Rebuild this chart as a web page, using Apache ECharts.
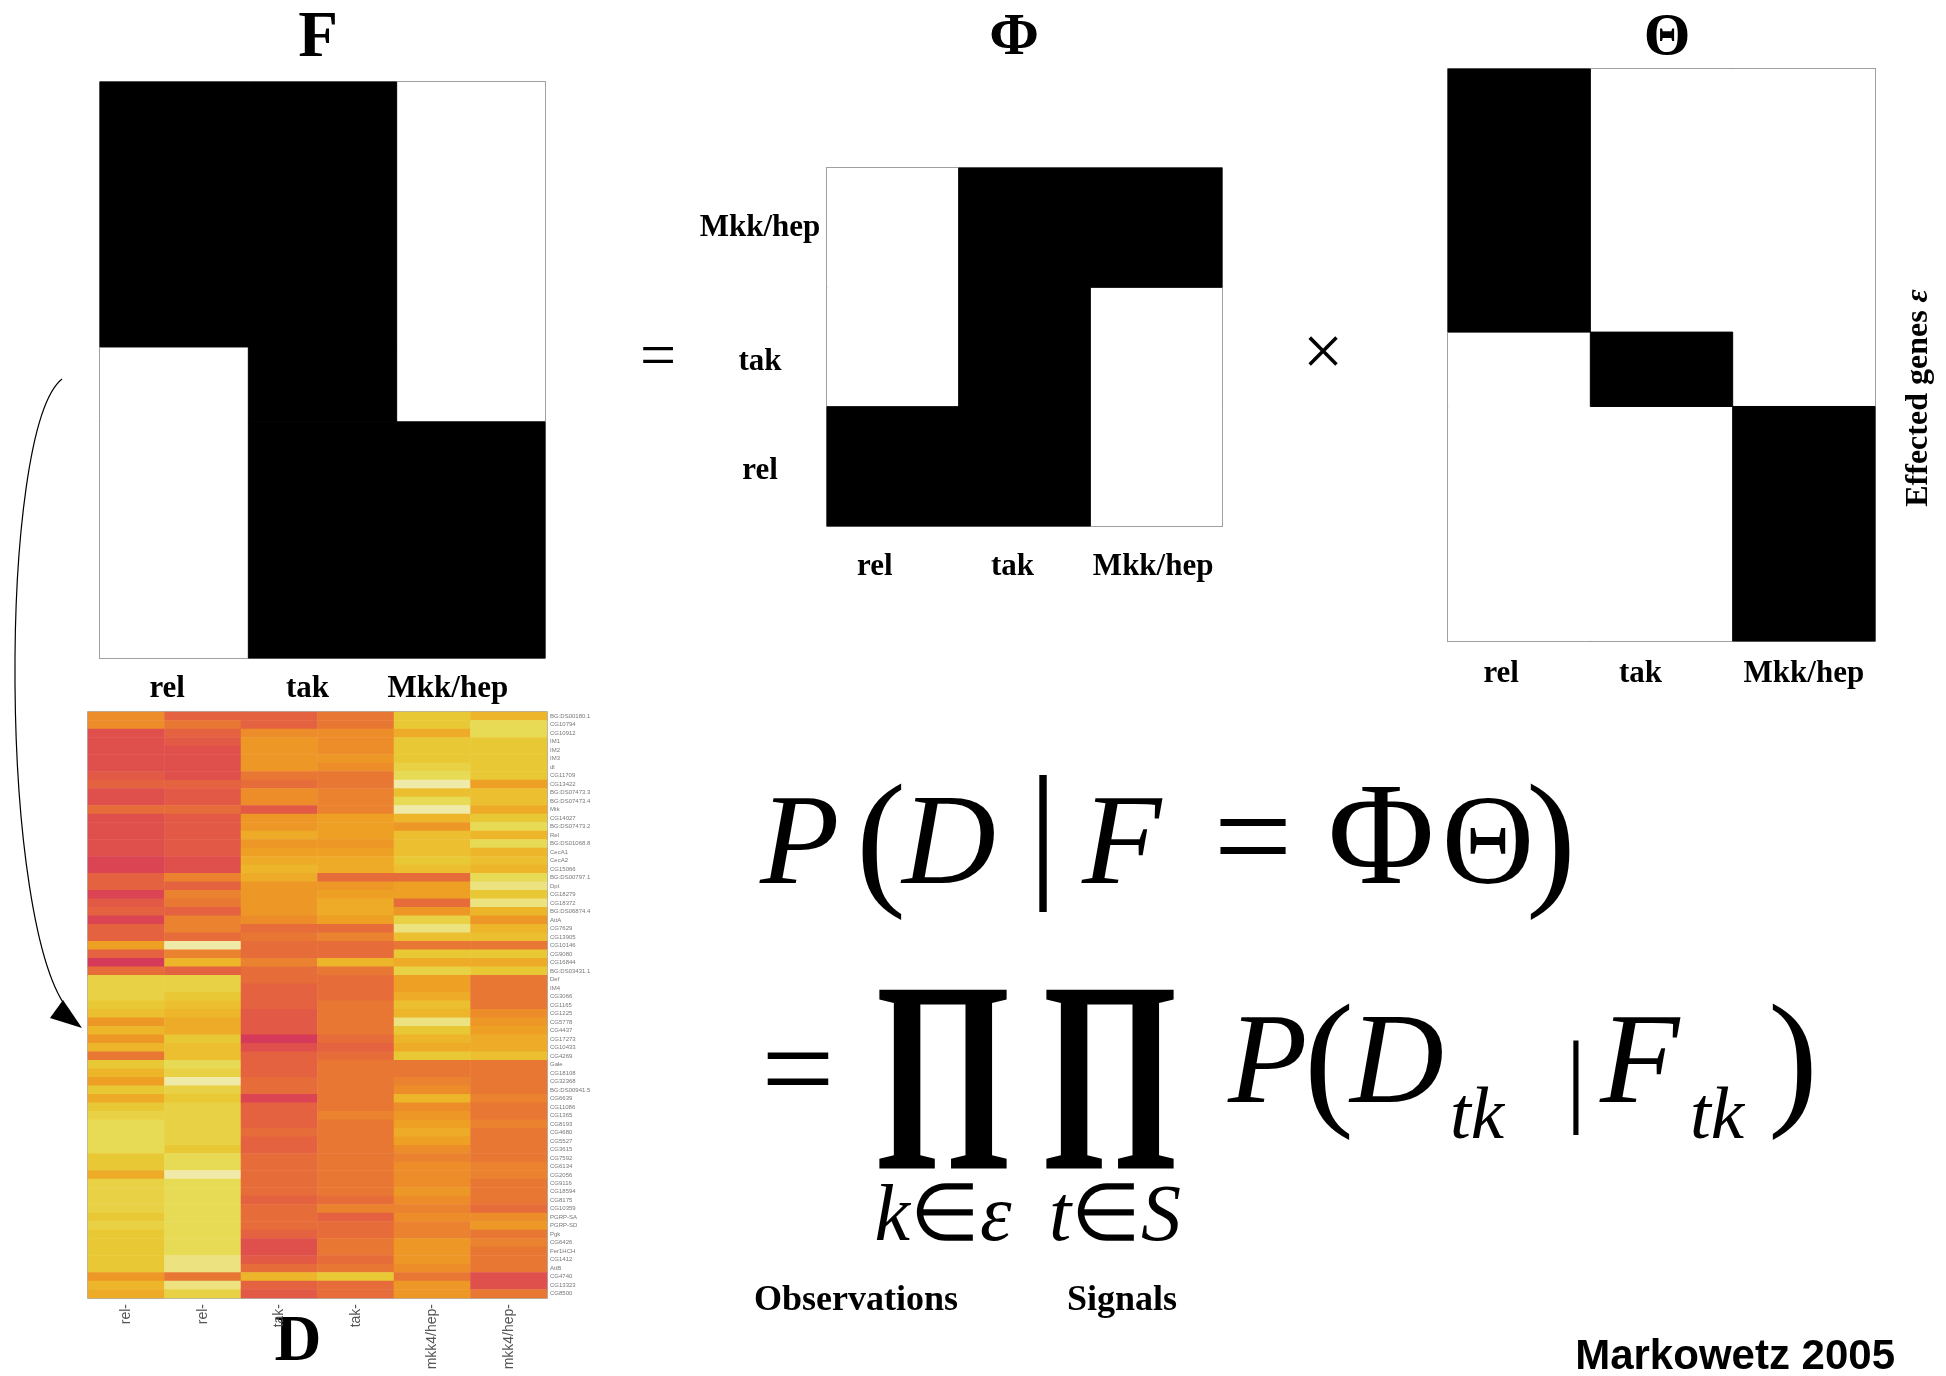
<!DOCTYPE html>
<html>
<head>
<meta charset="utf-8">
<script src="https://cdn.jsdelivr.net/npm/echarts@6/dist/echarts.min.js"></script>
<style>
html,body{margin:0;padding:0;background:#fff;}
#c{width:1946px;height:1376px;}
</style>
</head>
<body>
<div id="c"></div>
<script>
// ---------- data ----------
const signals = ['rel', 'tak', 'Mkk/hep'];
// Phi[signal][perturbation]  (rows bottom->top: rel, tak, Mkk/hep)
const phiRel = [1, 1, 0];
const phiTak = [0, 1, 0];
const phiMkk = [0, 1, 1];
// share (%) of effected genes attached to each signal (Theta)
const geneShare = [46, 13, 41];

// heatmap D: 6 arrays x 69 genes (value scale 0 = red ... 9 = pale yellow)
const sampleLabels = ['rel-', 'rel-', 'tak-', 'tak-', 'mkk4/hep-', 'mkk4/hep-'];
const relA = [4,4,1,1,1,1,1,1.5,2,1, 1,2.5,1,1,1,1,1,0.5,0.5,2, 2,0.5,1.5,2,0.5,2,2,5,2,0, 2.5,7.5,7.5,7.5,7,6.5,4.5,6,4.5,6, 3,7,6,5,7,5.5,7,7.5,8,8, 8,8,7,7,5.5,7.5,7.5,7.5,7.5,7, 7.5,7,7,7,7,7,4.5,6,5.5];
const relB = [2,3,2,1.5,1,1,1,1,2,1.5, 1.5,2.5,1.5,1.5,1.5,1.5,1.5,1,1,3.5, 2,3.5,3,2,3.5,3.5,2.5,9,3.5,6, 2,7.5,7.5,7,6.5,6,5.5,5.5,7,6.5, 6.5,8,7.5,9,7.5,7,7.5,7.5,7.5,7.5, 7.5,7,8,8,9,8,8,8,8,8, 8,8,8,8,8.5,8.5,3,8.5,7.5];
const takA = [2,2,4,4.5,4.5,4.5,4.5,3,2.5,4, 4,1.5,4.5,4.5,5.5,4.5,5,5.5,6,5.5, 4.5,4.5,4.5,4.5,4,2.5,3,2.5,2.5,3.5, 2.5,2.5,2,2,2,1.5,1.5,1.5,0,1, 2,2,2,2.5,2.5,0.5,2,2,2,2.5, 2,2,2.5,2.5,2.5,2.5,2.5,2,2.5,2.5, 2.5,2,1,1,1.5,2.5,6,2,1.5];
const takB = [3,3,4,4,4,4.5,4,3,3,3.5, 3.5,3.5,5,5,5,4.5,5,5.5,5.5,2.5, 4.5,5,5.5,5.5,5,2.5,3.5,2.5,2.5,6, 3,2.5,2.5,2.5,3,3,3,3,2.5,2, 2.5,3,3,3,3,3,3,3.5,3,3, 3,3,3,3,3,3,3,2.5,3.5,2, 2.5,2.5,3,3,2.5,3,7,2.5,2.5];
const hepA = [7,7,5.5,7,7,7,7.5,8,9,6.5, 8,9,6,4.5,6.5,6.5,6.5,7,6.5,2.5, 5,5,2.5,4.5,7.5,8.5,6.5,3,7,5.5, 7.5,5,5,5.5,6.5,6,8.5,7,6,5.5, 7,3,3,3.5,4,6,4,4.5,5,5.5, 5,4,3.5,4,4,4,4.5,4,3.5,4, 3.5,3.5,4.5,4.5,4.5,4,3,4.5,4.5];
const hepB = [6,8,8,7,7,7,7,7,5,6.5, 6.5,5.5,7,8,6,8,6,6.5,6,8, 8.5,7,8.5,6,4.5,6,6.5,3,7,5.5, 7,3,3,3,3,4,4.5,5,5.5,5.5, 6.5,3,3,3,3,3.5,3,3,3.5,3, 3,3,3,3.5,3.5,3,3,3,2.5,4, 4.5,3,3.5,3,3,3,1,1,3];
const geneLabels = ['BG:DS00180.1','CG10794','CG10912','IM1','IM2','IM3','dl','CG11709','CG13422','BG:DS07473.3',
 'BG:DS07473.4','Mtk','CG14027','BG:DS07473.2','Rel','BG:DS01068.8','CecA1','CecA2','CG15066','BG:DS00797.1',
 'Dpt','CG18279','CG18372','BG:DS06874.4','AttA','CG7629','CG13905','CG10146','CG9080','CG16844',
 'BG:DS03431.1','Def','IM4','CG3066','CG1165','CG1225','CG5778','CG4437','CG17273','CG10433',
 'CG4269','Gale','CG18108','CG32368','BG:DS00941.5','CG6639','CG11086','CG1365','CG8193','CG4680',
 'CG5527','CG3615','CG7592','CG6134','CG2056','CG9116','CG18594','CG8175','CG10359','PGRP-SA',
 'PGRP-SD','Pgk','CG6426','Fer1HCH','CG1412','AttB','CG4740','CG13323','CG8500'];

// ---------- derived ----------
const phi = [phiRel, phiTak, phiMkk];
const starts = [], ends = [];
geneShare.reduce((acc, s, i) => { starts[i] = acc; ends[i] = acc + s; return acc + s; }, 0);
const fData = [], thetaData = [], phiData = [];
for (let j = 0; j < 3; j++) {
  for (let g = 0; g < 3; g++) {
    fData.push([j, starts[g], ends[g], phi[g][j]]);          // F = Phi * Theta
    thetaData.push([j, starts[g], ends[g], g === j ? 1 : 0]);
    phiData.push([j, g, phi[g][j]]);
  }
}
const dCols = [relA, relB, takA, takB, hepA, hepB];
const dData = [];
dCols.forEach((col, c) => col.forEach((v, r) => dData.push([c, r, v])));

// ---------- rendering helpers ----------
function blockItem(params, api) {
  const col = api.value(0), y0 = api.value(1), y1 = api.value(2), v = api.value(3);
  const a = api.coord([col, y0]), b = api.coord([col, y1]);
  const w = api.size([1, 0])[0];
  const c = v ? '#000' : '#fff';
  return {type: 'rect', z2: v ? 2 : 1,
          shape: {x: a[0] - w / 2, y: Math.min(a[1], b[1]), width: w, height: Math.abs(b[1] - a[1])},
          style: {fill: c, stroke: v ? c : null, lineWidth: 1}};
}
function cellItem(params, api) {
  const p = api.coord([api.value(0), api.value(1)]);
  const s = api.size([1, 1]);
  const v = api.value(2);
  const c = v ? '#000' : '#fff';
  return {type: 'rect', z2: v ? 2 : 1,
          shape: {x: p[0] - s[0] / 2, y: p[1] - s[1] / 2, width: s[0], height: s[1]},
          style: {fill: c, stroke: v ? c : null, lineWidth: 1}};
}
const SERIF = 'Liberation Serif';
function boldLabels(shifts, margin) {
  const rich = {};
  shifts.forEach((s, i) => { rich['l' + i] = {fontFamily: SERIF, fontWeight: 'bold', fontSize: 31, color: '#000', padding: [0, 2 * s, 0, 0]}; });
  return {show: true, margin: margin, interval: 0, formatter: (v, i) => '{l' + i + '|' + v + '}', rich: rich,
          fontFamily: SERIF, fontWeight: 'bold', fontSize: 31, color: '#000'};
}
const gridBorder = {show: true, borderColor: '#a0a0a0', borderWidth: 2, backgroundColor: '#fff'};
const noLine = {show: false};

// text helper for the formula
function T(x, y, text, size, opts) {
  opts = opts || {};
  const el = {type: 'text', x: x, y: y,
    style: {text: text, fontFamily: opts.family || SERIF, fontSize: size, fontStyle: opts.italic ? 'italic' : 'normal',
            fontWeight: opts.bold ? 'bold' : 'normal', fill: '#000', align: opts.align || 'left', verticalAlign: 'middle'}};
  if (opts.scaleX) el.scaleX = opts.scaleX;
  if (opts.scaleY) el.scaleY = opts.scaleY;
  return el;
}
function R(x, y, text, rich, align) {
  return {type: 'text', x: x, y: y, style: {text: text, align: align || 'center', verticalAlign: 'middle', rich: rich}};
}
const mathRich = (size) => ({
  i: {fontFamily: SERIF, fontStyle: 'italic', fontSize: size, fill: '#000'},
  r: {fontFamily: SERIF, fontSize: size, fill: '#000'}
});

const option = {
  animation: false,
  backgroundColor: '#fff',
  grid: [
    Object.assign({left: 100, top: 82, width: 445, height: 576}, gridBorder),
    Object.assign({left: 827, top: 168, width: 395, height: 358}, gridBorder),
    Object.assign({left: 1448, top: 69, width: 427, height: 572}, gridBorder),
    {left: 88, top: 712, width: 459, height: 586, show: true, borderColor: '#999', borderWidth: 1.5}
  ],
  xAxis: [
    {gridIndex: 0, type: 'category', data: signals, axisLine: noLine, axisTick: noLine, splitLine: noLine,
     axisLabel: boldLabels([7, 15, 23], 15)},
    {gridIndex: 1, type: 'category', data: signals, axisLine: noLine, axisTick: noLine, splitLine: noLine,
     axisLabel: boldLabels([18, 12, 3], 25)},
    {gridIndex: 2, type: 'category', data: signals, axisLine: noLine, axisTick: noLine, splitLine: noLine,
     axisLabel: boldLabels([18, 21, 0], 17)},
    {gridIndex: 3, type: 'category', data: sampleLabels.map((s, i) => 's' + i), axisLine: noLine, axisTick: noLine, splitLine: noLine,
     axisLabel: {interval: 0, rotate: 90, margin: 6, fontSize: 14, color: '#555', fontFamily: 'Liberation Sans',
                 formatter: (v, i) => sampleLabels[i]}}
  ],
  yAxis: [
    {gridIndex: 0, type: 'value', min: 0, max: 100, inverse: true, show: false},
    {gridIndex: 1, type: 'category', data: signals, axisLine: noLine, axisTick: noLine, splitLine: noLine,
     axisLabel: {show: true, margin: 67, align: 'center', interval: 0,
                 formatter: (v, i) => '{y' + i + '|' + v + '}',
                 rich: {y0: {fontFamily: SERIF, fontWeight: 'bold', fontSize: 31, color: '#000', padding: [10, 0, 0, 0]},
                        y1: {fontFamily: SERIF, fontWeight: 'bold', fontSize: 31, color: '#000', padding: [30, 0, 0, 0]},
                        y2: {fontFamily: SERIF, fontWeight: 'bold', fontSize: 31, color: '#000'}}}},
    {gridIndex: 2, type: 'value', min: 0, max: 100, inverse: true, show: false},
    {gridIndex: 3, type: 'category', data: geneLabels, inverse: true, position: 'right',
     axisLine: noLine, axisTick: noLine, splitLine: noLine,
     axisLabel: {interval: 0, margin: 3, fontSize: 6, color: '#777', fontFamily: 'Liberation Sans'}}
  ],
  visualMap: {
    type: 'continuous', show: false, seriesIndex: 3, dimension: 2, min: 0, max: 9,
    inRange: {color: ['#d63a5a', '#df4f4b', '#e4623f', '#e87734', '#ec8d2a', '#eda024', '#ecb52a', '#e9c835', '#e7da55', '#f0eaa8']}
  },
  series: [
    {type: 'custom', xAxisIndex: 0, yAxisIndex: 0, renderItem: blockItem, data: fData, silent: true},
    {type: 'custom', xAxisIndex: 1, yAxisIndex: 1, renderItem: cellItem, data: phiData, silent: true},
    {type: 'custom', xAxisIndex: 2, yAxisIndex: 2, renderItem: blockItem, data: thetaData, silent: true},
    {type: 'heatmap', xAxisIndex: 3, yAxisIndex: 3, data: dData, silent: true, itemStyle: {borderWidth: 0}}
  ],
  graphic: [
    // matrix titles
    T(318, 39, 'F', 65, {bold: true, align: 'center'}),
    T(1014, 38, 'Φ', 60, {bold: true, align: 'center'}),
    T(1667, 38, 'Θ', 60, {bold: true, align: 'center'}),
    T(298, 1343, 'D', 65, {bold: true, align: 'center'}),
    // operators between matrices
    T(658, 359, '=', 64, {align: 'center'}),
    T(1323, 356, '×', 72, {align: 'center'}),
    // side label
    {type: 'text', x: 1919, y: 398, rotation: Math.PI / 2,
     style: {text: '{b|Effected genes }{e|ε}', align: 'center', verticalAlign: 'middle',
             rich: {b: {fontFamily: SERIF, fontWeight: 'bold', fontSize: 32, fill: '#000'},
                    e: {fontFamily: SERIF, fontWeight: 'bold', fontStyle: 'italic', fontSize: 32, fill: '#000'}}}},
    // arrow from F to D
    {type: 'bezierCurve', shape: {x1: 62, y1: 379, cpx1: -2, cpy1: 430, cpx2: -2, cpy2: 930, x2: 70, y2: 1012},
     style: {stroke: '#000', lineWidth: 1.2, fill: null}},
    {type: 'polygon', shape: {points: [[82, 1028], [50, 1018], [63, 1000]]}, style: {fill: '#000'}},
    // equation line 1 : P(D | F = ΦΘ)
    T(760, 849, 'P', 130, {italic: true}),
    T(856, 849, '(', 150),
    T(902, 849, 'D', 130, {italic: true}),
    T(1043, 841, '|', 150, {align: 'center'}),
    T(1082, 849, 'F', 130, {italic: true}),
    T(1253, 846, '=', 140, {align: 'center'}),
    T(1381, 845, 'Φ', 146, {align: 'center'}),
    T(1488, 849, 'Θ', 128, {align: 'center'}),
    T(1526, 849, ')', 150),
    // equation line 2 : = ΠΠ P(D_tk | F_tk)
    T(798, 1078, '=', 130, {align: 'center'}),
    T(943, 1098, 'Π', 210, {bold: true, align: 'center', scaleX: 0.82, scaleY: 1.3}),
    T(1110, 1098, 'Π', 210, {bold: true, align: 'center', scaleX: 0.82, scaleY: 1.3}),
    T(1228, 1068, 'P', 130, {italic: true}),
    T(1304, 1069, '(', 150),
    T(1350, 1068, 'D', 130, {italic: true}),
    T(1450, 1118, 'tk', 75, {italic: true}),
    T(1576, 1086, '|', 104, {align: 'center'}),
    T(1600, 1068, 'F', 130, {italic: true}),
    T(1690, 1118, 'tk', 75, {italic: true}),
    T(1768, 1069, ')', 150),
    // product indices
    R(943, 1219, '{i|k}{r|∈}{i|ε}', mathRich(80)),
    R(1115, 1219, '{i|t}{r|∈}{i|S}', mathRich(80)),
    T(856, 1301, 'Observations', 36, {bold: true, align: 'center'}),
    T(1122, 1301, 'Signals', 36, {bold: true, align: 'center'}),
    T(1895, 1357, 'Markowetz 2005', 42, {bold: true, align: 'right', family: 'Liberation Sans'})
  ]
};
const chart = echarts.init(document.getElementById('c'), null, {renderer: 'canvas'});
chart.setOption(option);
</script>
</body>
</html>
